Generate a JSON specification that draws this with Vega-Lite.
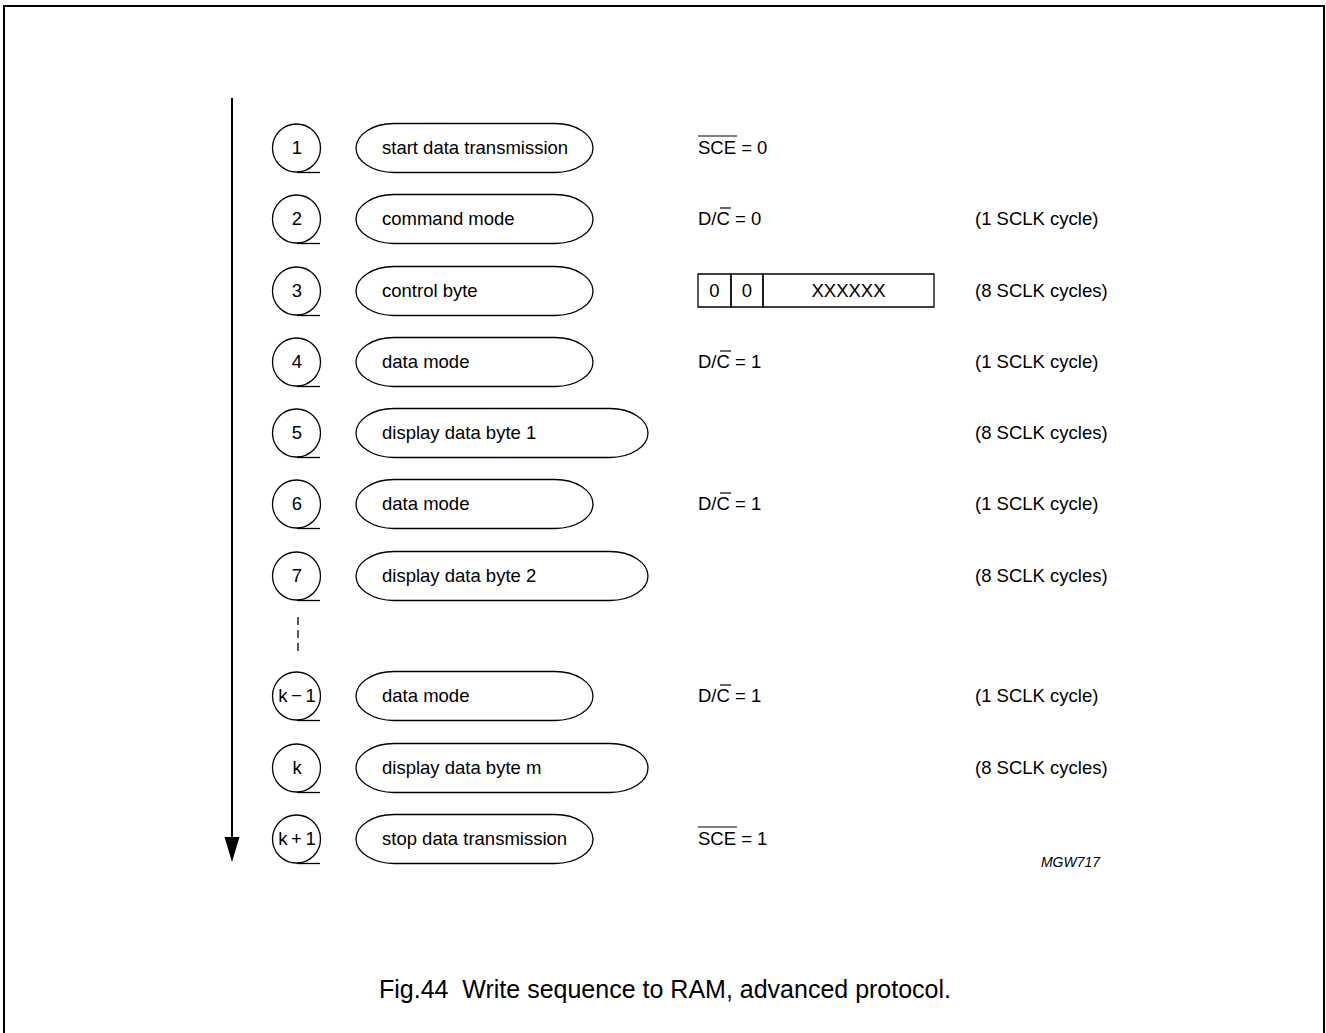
{
  "$schema": "https://vega.github.io/schema/vega-lite/v6.json",
  "width": 1326,
  "height": 1033,
  "autosize": {"type": "fit", "contains": "padding"},
  "padding": 0,
  "background": "white",
  "config": {"view": {"stroke": null}, "text": {"font": "Liberation Sans", "color": "black"}},
  "datasets": {
    "frame": [{"x": 4, "x2": 1324, "y": 6, "y2": 1045}],
    "arrow": [{"x": 232, "y": 98, "y2": 842}],
    "arrowhead": [{"x": 232, "y": 849.5}],
    "steps": [
      {"n": "1", "y": 148, "yb": 172.5, "kind": "short", "cx": 474.5, "label": "start data transmission"},
      {"n": "2", "y": 219, "yb": 243.5, "kind": "short", "cx": 474.5, "label": "command mode"},
      {"n": "3", "y": 291, "yb": 315.5, "kind": "short", "cx": 474.5, "label": "control byte"},
      {"n": "4", "y": 362, "yb": 386.5, "kind": "short", "cx": 474.5, "label": "data mode"},
      {"n": "5", "y": 433, "yb": 457.5, "kind": "long", "cx": 502, "label": "display data byte 1"},
      {"n": "6", "y": 504, "yb": 528.5, "kind": "short", "cx": 474.5, "label": "data mode"},
      {"n": "7", "y": 576, "yb": 600.5, "kind": "long", "cx": 502, "label": "display data byte 2"},
      {"n": "k\u2009\u2212\u20091", "y": 696, "yb": 720.5, "kind": "short", "cx": 474.5, "label": "data mode"},
      {"n": "k", "y": 768, "yb": 792.5, "kind": "long", "cx": 502, "label": "display data byte m"},
      {"n": "k\u2009+\u20091", "y": 839, "yb": 863.5, "kind": "short", "cx": 474.5, "label": "stop data transmission"}
    ],
    "lefttexts": [
      {"x": 698, "y": 148, "t": "SCE = 0"},
      {"x": 698, "y": 219, "t": "D/C = 0"},
      {"x": 698, "y": 362, "t": "D/C = 1"},
      {"x": 698, "y": 504, "t": "D/C = 1"},
      {"x": 698, "y": 696, "t": "D/C = 1"},
      {"x": 698, "y": 839, "t": "SCE = 1"},
      {"x": 975, "y": 219, "t": "(1 SCLK cycle)"},
      {"x": 975, "y": 291, "t": "(8 SCLK cycles)"},
      {"x": 975, "y": 362, "t": "(1 SCLK cycle)"},
      {"x": 975, "y": 433, "t": "(8 SCLK cycles)"},
      {"x": 975, "y": 504, "t": "(1 SCLK cycle)"},
      {"x": 975, "y": 576, "t": "(8 SCLK cycles)"},
      {"x": 975, "y": 696, "t": "(1 SCLK cycle)"},
      {"x": 975, "y": 768, "t": "(8 SCLK cycles)"}
    ],
    "overlines": [
      {"x": 698, "x2": 737, "y": 136},
      {"x": 720, "x2": 731, "y": 208},
      {"x": 720, "x2": 731, "y": 351},
      {"x": 720, "x2": 731, "y": 493},
      {"x": 720, "x2": 731, "y": 685},
      {"x": 698, "x2": 737, "y": 827}
    ],
    "box": [
      {"x": 698, "x2": 731, "y": 274, "y2": 307, "t": "0", "xc": 714.5},
      {"x": 731, "x2": 763, "y": 274, "y2": 307, "t": "0", "xc": 747},
      {"x": 763, "x2": 934, "y": 274, "y2": 307, "t": "XXXXXX", "xc": 848.5}
    ],
    "dash": [{"x": 298, "y": 617, "y2": 653}],
    "code": [{"x": 1100, "y": 863, "t": "MGW717"}],
    "caption": [{"x": 665, "y": 998, "t": "Fig.44\u00a0\u00a0Write sequence to RAM, advanced protocol."}]
  },
  "layer": [
    {
      "data": {"name": "frame"},
      "mark": {"type": "rect", "fill": null, "stroke": "black", "strokeWidth": 2, "clip": true},
      "encoding": {
        "x": {"field": "x", "type": "quantitative", "scale": {"domain": [0, 1326], "nice": false, "zero": false}, "axis": null},
        "x2": {"field": "x2"},
        "y": {"field": "y", "type": "quantitative", "scale": {"domain": [0, 1033], "reverse": true, "nice": false, "zero": false}, "axis": null},
        "y2": {"field": "y2"}
      }
    },
    {
      "data": {"name": "arrow"},
      "mark": {"type": "rule", "stroke": "black", "strokeWidth": 2},
      "encoding": {
        "x": {"field": "x", "type": "quantitative", "scale": {"domain": [0, 1326], "nice": false, "zero": false}, "axis": null},
        "y": {"field": "y", "type": "quantitative", "scale": {"domain": [0, 1033], "reverse": true, "nice": false, "zero": false}, "axis": null},
        "y2": {"field": "y2"}
      }
    },
    {
      "data": {"name": "arrowhead"},
      "mark": {"type": "point", "shape": "M-1,-1.667L1,-1.667L0,1.667Z", "filled": true, "fill": "black", "stroke": null, "size": 225, "opacity": 1},
      "encoding": {
        "x": {"field": "x", "type": "quantitative", "scale": {"domain": [0, 1326], "nice": false, "zero": false}, "axis": null},
        "y": {"field": "y", "type": "quantitative", "scale": {"domain": [0, 1033], "reverse": true, "nice": false, "zero": false}, "axis": null}
      }
    },
    {
      "data": {"name": "steps"},
      "mark": {"type": "point", "shape": "circle", "filled": false, "stroke": "black", "strokeWidth": 1.3, "size": 2304, "opacity": 1},
      "encoding": {
        "x": {"datum": 296.5, "type": "quantitative", "scale": {"domain": [0, 1326], "nice": false, "zero": false}, "axis": null},
        "y": {"field": "y", "type": "quantitative", "scale": {"domain": [0, 1033], "reverse": true, "nice": false, "zero": false}, "axis": null}
      }
    },
    {
      "data": {"name": "steps"},
      "mark": {"type": "rule", "stroke": "black", "strokeWidth": 1.3},
      "encoding": {
        "x": {"datum": 297, "type": "quantitative", "scale": {"domain": [0, 1326], "nice": false, "zero": false}, "axis": null},
        "x2": {"datum": 320},
        "y": {"field": "yb", "type": "quantitative", "scale": {"domain": [0, 1033], "reverse": true, "nice": false, "zero": false}, "axis": null}
      }
    },
    {
      "data": {"name": "steps"},
      "mark": {"type": "text", "align": "center", "baseline": "middle", "fontSize": 18.5},
      "encoding": {
        "x": {"datum": 297, "type": "quantitative", "scale": {"domain": [0, 1326], "nice": false, "zero": false}, "axis": null},
        "y": {"field": "y", "type": "quantitative", "scale": {"domain": [0, 1033], "reverse": true, "nice": false, "zero": false}, "axis": null},
        "text": {"field": "n"}
      }
    },
    {
      "data": {"name": "steps"},
      "mark": {"type": "point", "filled": false, "stroke": "black", "strokeWidth": 1.3, "size": 2401, "opacity": 1},
      "encoding": {
        "x": {"field": "cx", "type": "quantitative", "scale": {"domain": [0, 1326], "nice": false, "zero": false}, "axis": null},
        "y": {"field": "y", "type": "quantitative", "scale": {"domain": [0, 1033], "reverse": true, "nice": false, "zero": false}, "axis": null},
        "shape": {
          "field": "kind",
          "type": "nominal",
          "legend": null,
          "scale": {
            "domain": ["short", "long"],
            "range": [
              "M-3.287,-1L3.287,-1C4.143,-1,4.837,-0.5523,4.837,0C4.837,0.5523,4.143,1,3.287,1L-3.287,1C-4.143,1,-4.837,0.5523,-4.837,0C-4.837,-0.5523,-4.143,-1,-3.287,-1Z",
              "M-4.409,-1L4.409,-1C5.265,-1,5.959,-0.5523,5.959,0C5.959,0.5523,5.265,1,4.409,1L-4.409,1C-5.265,1,-5.959,0.5523,-5.959,0C-5.959,-0.5523,-5.265,-1,-4.409,-1Z"
            ]
          }
        }
      }
    },
    {
      "data": {"name": "steps"},
      "mark": {"type": "text", "align": "left", "baseline": "middle", "fontSize": 18.5},
      "encoding": {
        "x": {"datum": 382, "type": "quantitative", "scale": {"domain": [0, 1326], "nice": false, "zero": false}, "axis": null},
        "y": {"field": "y", "type": "quantitative", "scale": {"domain": [0, 1033], "reverse": true, "nice": false, "zero": false}, "axis": null},
        "text": {"field": "label"}
      }
    },
    {
      "data": {"name": "lefttexts"},
      "mark": {"type": "text", "align": "left", "baseline": "middle", "fontSize": 18.5},
      "encoding": {
        "x": {"field": "x", "type": "quantitative", "scale": {"domain": [0, 1326], "nice": false, "zero": false}, "axis": null},
        "y": {"field": "y", "type": "quantitative", "scale": {"domain": [0, 1033], "reverse": true, "nice": false, "zero": false}, "axis": null},
        "text": {"field": "t"}
      }
    },
    {
      "data": {"name": "overlines"},
      "mark": {"type": "rule", "stroke": "black", "strokeWidth": 1.2},
      "encoding": {
        "x": {"field": "x", "type": "quantitative", "scale": {"domain": [0, 1326], "nice": false, "zero": false}, "axis": null},
        "x2": {"field": "x2"},
        "y": {"field": "y", "type": "quantitative", "scale": {"domain": [0, 1033], "reverse": true, "nice": false, "zero": false}, "axis": null}
      }
    },
    {
      "data": {"name": "box"},
      "mark": {"type": "rect", "fill": null, "stroke": "black", "strokeWidth": 1.3},
      "encoding": {
        "x": {"field": "x", "type": "quantitative", "scale": {"domain": [0, 1326], "nice": false, "zero": false}, "axis": null},
        "x2": {"field": "x2"},
        "y": {"field": "y", "type": "quantitative", "scale": {"domain": [0, 1033], "reverse": true, "nice": false, "zero": false}, "axis": null},
        "y2": {"field": "y2"}
      }
    },
    {
      "data": {"name": "box"},
      "mark": {"type": "text", "align": "center", "baseline": "middle", "fontSize": 18.5},
      "encoding": {
        "x": {"field": "xc", "type": "quantitative", "scale": {"domain": [0, 1326], "nice": false, "zero": false}, "axis": null},
        "y": {"datum": 291, "type": "quantitative", "scale": {"domain": [0, 1033], "reverse": true, "nice": false, "zero": false}, "axis": null},
        "text": {"field": "t"}
      }
    },
    {
      "data": {"name": "dash"},
      "mark": {"type": "rule", "stroke": "black", "strokeWidth": 1.3, "strokeDash": [8, 5]},
      "encoding": {
        "x": {"field": "x", "type": "quantitative", "scale": {"domain": [0, 1326], "nice": false, "zero": false}, "axis": null},
        "y": {"field": "y", "type": "quantitative", "scale": {"domain": [0, 1033], "reverse": true, "nice": false, "zero": false}, "axis": null},
        "y2": {"field": "y2"}
      }
    },
    {
      "data": {"name": "code"},
      "mark": {"type": "text", "align": "right", "baseline": "middle", "fontSize": 14, "fontStyle": "italic"},
      "encoding": {
        "x": {"field": "x", "type": "quantitative", "scale": {"domain": [0, 1326], "nice": false, "zero": false}, "axis": null},
        "y": {"field": "y", "type": "quantitative", "scale": {"domain": [0, 1033], "reverse": true, "nice": false, "zero": false}, "axis": null},
        "text": {"field": "t"}
      }
    },
    {
      "data": {"name": "caption"},
      "mark": {"type": "text", "align": "center", "baseline": "alphabetic", "fontSize": 25},
      "encoding": {
        "x": {"field": "x", "type": "quantitative", "scale": {"domain": [0, 1326], "nice": false, "zero": false}, "axis": null},
        "y": {"field": "y", "type": "quantitative", "scale": {"domain": [0, 1033], "reverse": true, "nice": false, "zero": false}, "axis": null},
        "text": {"field": "t"}
      }
    }
  ]
}
